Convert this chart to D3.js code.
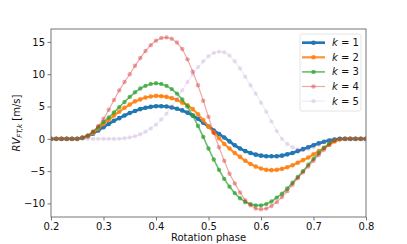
<!DOCTYPE html>
<html>
<head>
<meta charset="utf-8">
<script src="https://cdn.jsdelivr.net/npm/d3@7"></script>
<style>
  body { margin: 0; background: #fff; }
  text { font-family: "DejaVu Sans", sans-serif; }
</style>
</head>
<body>
<div id="wrapper"></div>
<script>
// Rotation phase grid
const phase = [0.20, 0.21, 0.22, 0.23, 0.24, 0.25, 0.26, 0.27, 0.28, 0.29,
  0.30, 0.31, 0.32, 0.33, 0.34, 0.35, 0.36, 0.37, 0.38, 0.39,
  0.40, 0.41, 0.42, 0.43, 0.44, 0.45, 0.46, 0.47, 0.48, 0.49,
  0.50, 0.51, 0.52, 0.53, 0.54, 0.55, 0.56, 0.57, 0.58, 0.59,
  0.60, 0.61, 0.62, 0.63, 0.64, 0.65, 0.66, 0.67, 0.68, 0.69,
  0.70, 0.71, 0.72, 0.73, 0.74, 0.75, 0.76, 0.77, 0.78, 0.79, 0.80]

// RV_FT,k values
const rvK1 = [0, 0, 0, 0, 0, 0, 0.15, 0.4, 0.8, 1.3,
  1.8, 2.3, 2.8, 3.2, 3.6, 4.0, 4.3, 4.6, 4.8, 4.95,
  5.05, 5.05, 5.0, 4.85, 4.65, 4.4, 4.05, 3.6, 3.1, 2.5,
  1.9, 1.3, 0.75, 0.2, -0.4, -1.0, -1.5, -1.9, -2.2, -2.45,
  -2.6, -2.7, -2.7, -2.7, -2.6, -2.4, -2.2, -1.9, -1.6, -1.3,
  -1.0, -0.7, -0.45, -0.25, -0.1, 0, 0, 0, 0, 0, 0]
const rvK2 = [0, 0, 0, 0, 0, 0, 0.15, 0.45, 0.9, 1.6,
  2.3, 2.9, 3.6, 4.2, 4.8, 5.3, 5.8, 6.1, 6.4, 6.55,
  6.65, 6.6, 6.5, 6.3, 6.0, 5.6, 5.2, 4.6, 3.8, 2.9,
  1.9, 1.0, 0.1, -0.8, -1.5, -2.2, -2.8, -3.4, -3.9, -4.3,
  -4.6, -4.8, -4.85, -4.8, -4.65, -4.4, -4.1, -3.7, -3.3, -2.9,
  -2.4, -1.9, -1.4, -0.9, -0.4, -0.1, 0, 0, 0, 0, 0]
const rvK3 = [0, 0, 0, 0, 0, 0, 0.15, 0.5, 1.1, 1.8,
  2.6, 3.3, 4.1, 4.9, 5.7, 6.5, 7.2, 7.8, 8.2, 8.5,
  8.6, 8.5, 8.2, 7.7, 7.0, 6.1, 5.0, 3.6, 2.0, 0.3,
  -1.5, -3.2, -4.8, -6.2, -7.4, -8.4, -9.2, -9.8, -10.1, -10.3,
  -10.3, -10.1, -9.7, -9.1, -8.5, -7.7, -6.8, -5.9, -5.0, -4.0,
  -3.1, -2.2, -1.4, -0.7, -0.2, 0, 0, 0, 0, 0, 0]
const rvK4 = [0, 0, 0, 0, 0, 0, 0.2, 0.5, 1.1, 2.0,
  3.1, 4.5, 6.0, 7.5, 8.8, 10.0, 11.3, 12.5, 13.6, 14.5,
  15.2, 15.6, 15.7, 15.5, 14.9, 13.9, 12.3, 10.4, 8.3, 5.9,
  3.4, 0.9, -1.3, -3.4, -5.4, -6.9, -8.3, -9.5, -10.3, -10.8,
  -10.9, -10.8, -10.4, -9.8, -9.0, -8.1, -7.1, -6.1, -5.2, -4.3,
  -3.4, -2.5, -1.7, -0.9, -0.3, 0, 0, 0, 0, 0, 0]
const rvK5 = [0, 0, 0, 0, 0, 0, 0, 0, 0, 0,
  0, 0, 0, 0, 0.1, 0.2, 0.4, 0.7, 1.1, 1.6,
  2.2, 3.0, 3.9, 5.0, 6.2, 7.5, 8.8, 10.0, 11.1, 12.0,
  12.8, 13.3, 13.5, 13.4, 12.9, 12.0, 10.9, 9.6, 8.3, 7.0,
  5.6, 4.2, 2.7, 1.2, 0.0, -0.8, -1.3, -1.6, -1.7, -1.6,
  -1.3, -0.9, -0.5, -0.2, -0.05, 0, 0, 0, 0, 0, 0]

const seriesNames = ["1", "2", "3", "4", "5"]
const seriesValues = [rvK1, rvK2, rvK3, rvK4, rvK5]
const seriesColors = ["#1f77b4", "#ff7f0e", "#2ca02c", "#d62728", "#9467bd"]
const seriesAlpha = [1, 0.85, 0.7, 0.4, 0.2]
const seriesWidth = [2.7, 2.2, 1.6, 1.2, 0.9]
const seriesRadius = [2.3, 2.3, 2.2, 2.2, 2.2]

const xTicks = [0.2, 0.3, 0.4, 0.5, 0.6, 0.7, 0.8]
const yTicks = [-10, -5, 0, 5, 10, 15]

function drawChart() {
  const dimensions = {
    width: 407,
    height: 244,
    margin: { top: 29, right: 41, bottom: 27, left: 51 },
  }
  dimensions.boundedWidth = dimensions.width - dimensions.margin.left - dimensions.margin.right
  dimensions.boundedHeight = dimensions.height - dimensions.margin.top - dimensions.margin.bottom

  const wrapper = d3.select("#wrapper")
    .append("svg")
      .attr("width", dimensions.width)
      .attr("height", dimensions.height)

  const bounds = wrapper.append("g")
      .attr("transform", `translate(${dimensions.margin.left},${dimensions.margin.top})`)

  const xScale = d3.scaleLinear()
    .domain([0.2, 0.8])
    .range([0, dimensions.boundedWidth])

  const yScale = d3.scaleLinear()
    .domain([-12.1, 17.0])
    .range([dimensions.boundedHeight, 0])

  // clip so nothing spills over the frame
  bounds.append("clipPath").attr("id", "clip")
    .append("rect")
      .attr("width", dimensions.boundedWidth)
      .attr("height", dimensions.boundedHeight)

  const plot = bounds.append("g").attr("clip-path", "url(#clip)")

  const lineGen = d3.line()
    .x((d, i) => xScale(phase[i]))
    .y(d => yScale(d))

  seriesValues.forEach((values, k) => {
    plot.append("path")
        .datum(values)
        .attr("d", lineGen)
        .attr("fill", "none")
        .attr("stroke", seriesColors[k])
        .attr("stroke-opacity", seriesAlpha[k])
        .attr("stroke-width", seriesWidth[k])
    plot.append("g")
      .selectAll("circle")
      .data(values)
      .join("circle")
        .attr("cx", (d, i) => xScale(phase[i]))
        .attr("cy", d => yScale(d))
        .attr("r", seriesRadius[k])
        .attr("fill", seriesColors[k])
        .attr("fill-opacity", seriesAlpha[k])
  })

  // axes
  const xAxis = bounds.append("g")
      .attr("transform", `translate(0,${dimensions.boundedHeight})`)
      .call(d3.axisBottom(xScale).tickValues(xTicks).tickFormat(d3.format(".1f"))
        .tickSizeOuter(0).tickSize(3.5).tickPadding(2.5))
  const yAxis = bounds.append("g")
      .call(d3.axisLeft(yScale).tickValues(yTicks).tickFormat(d => d < 0 ? "\u2212" + Math.abs(d) : d)
        .tickSizeOuter(0).tickSize(3.5).tickPadding(2.5))

  ;[xAxis, yAxis].forEach(ax => {
    ax.select(".domain").remove()
    ax.selectAll(".tick line").attr("stroke", "#555").attr("stroke-width", 0.8)
    ax.selectAll(".tick text")
      .attr("fill", "#111")
      .style("font-size", "10px")
      .style("font-family", "DejaVu Sans")
  })

  bounds.append("rect")
      .attr("x", 0)
      .attr("y", 0)
      .attr("width", dimensions.boundedWidth)
      .attr("height", dimensions.boundedHeight)
      .attr("fill", "none")
      .attr("stroke", "#666")
      .attr("stroke-width", 0.9)

  // axis labels
  bounds.append("text")
      .attr("x", dimensions.boundedWidth / 2)
      .attr("y", dimensions.boundedHeight + 24)
      .attr("text-anchor", "middle")
      .attr("fill", "#111")
      .style("font-size", "10px")
      .text("Rotation phase")

  const yLabel = wrapper.append("text")
      .attr("transform", `translate(20,${dimensions.margin.top + dimensions.boundedHeight / 2}) rotate(-90)`)
      .attr("text-anchor", "middle")
      .attr("fill", "#111")
      .style("font-size", "10px")
  yLabel.append("tspan").style("font-style", "italic").text("RV")
  yLabel.append("tspan").style("font-style", "italic").style("font-size", "7px")
      .attr("dy", 2.2).text("FT,k")
  yLabel.append("tspan").attr("dy", -2.2).text(" [m/s]")

  // legend
  const legend = wrapper.append("g")
      .attr("transform", "translate(300,34)")
  legend.append("rect")
      .attr("width", 61)
      .attr("height", 77)
      .attr("rx", 2)
      .attr("fill", "#fff")
      .attr("fill-opacity", 0.8)
      .attr("stroke", "#ddd")
      .attr("stroke-width", 0.8)

  const items = legend.selectAll(".item")
    .data(seriesNames)
    .join("g")
      .attr("transform", (d, i) => `translate(0,${8.7 + i * 14.6})`)
  items.append("line")
      .attr("x1", 2).attr("x2", 25)
      .attr("stroke", (d, i) => seriesColors[i])
      .attr("stroke-opacity", (d, i) => seriesAlpha[i])
      .attr("stroke-width", (d, i) => seriesWidth[i])
  items.append("circle")
      .attr("cx", 13.5)
      .attr("r", (d, i) => seriesRadius[i])
      .attr("fill", (d, i) => seriesColors[i])
      .attr("fill-opacity", (d, i) => seriesAlpha[i])
  const labels = items.append("text")
      .attr("x", 32)
      .attr("dy", "0.35em")
      .attr("fill", "#111")
      .style("font-size", "10px")
  labels.append("tspan").style("font-style", "italic").text("k")
  labels.append("tspan").text(d => " = " + d)
}
drawChart()
</script>
</body>
</html>
